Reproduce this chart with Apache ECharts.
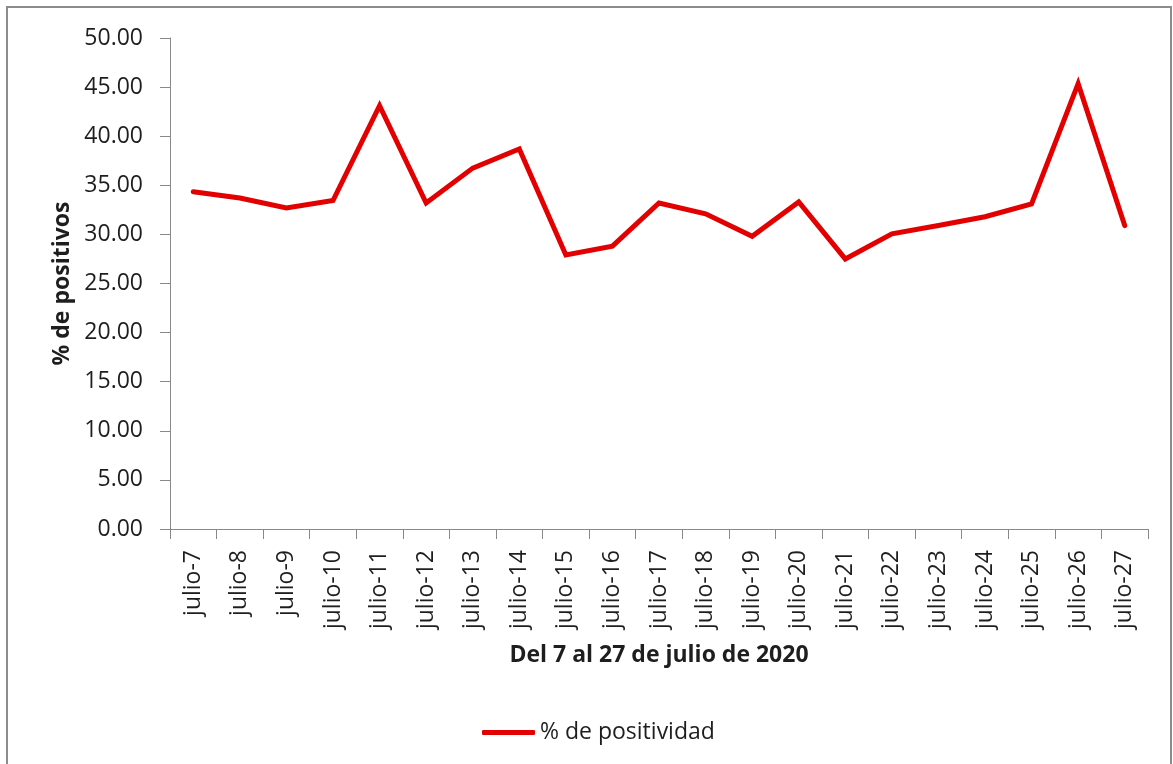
<!DOCTYPE html>
<html>
<head>
<meta charset="utf-8">
<script src="https://cdn.jsdelivr.net/npm/echarts@6/dist/echarts.min.js"></script>
<style>
  html, body { margin: 0; padding: 0; background: #fff; }
  #chart { width: 1173px; height: 764px; }
</style>
</head>
<body>
<div id="chart"></div>
<script>
// categorías (días de julio 2020)
const dias = [
  'julio-7', 'julio-8', 'julio-9', 'julio-10', 'julio-11', 'julio-12', 'julio-13',
  'julio-14', 'julio-15', 'julio-16', 'julio-17', 'julio-18', 'julio-19', 'julio-20',
  'julio-21', 'julio-22', 'julio-23', 'julio-24', 'julio-25', 'julio-26', 'julio-27',
]
// % de positividad
const positividad = [
  34.35, 33.7, 32.7, 33.45, 43.1, 33.2, 36.75,
  38.7, 27.9, 28.8, 33.2, 32.1, 29.8, 33.3,
  27.5, 30.05, 30.9, 31.8, 33.1, 45.35, 30.9,
]
const serieNombre = '% de positividad'
const ejeX = 'Del 7 al 27 de julio de 2020'
const ejeY = '% de positivos'

const fuente = "'Open Sans', 'Noto Sans', sans-serif"
const texto = '#1e1e1e'
const gris = '#888888'

const myChart = echarts.init(document.getElementById('chart'))

const option = {
  animation: false,
  backgroundColor: '#fff',
  textStyle: { fontFamily: fuente },
  // marco exterior gris
  graphic: [
    {
      type: 'rect',
      shape: { x: 7, y: 7, width: 1164, height: 800 },
      style: { fill: 'none', stroke: '#8c8c8c', lineWidth: 2 },
      silent: true,
    },
  ],
  legend: {
    data: [serieNombre],
    left: 477,
    top: 716,
    icon: 'roundRect',
    itemWidth: 53,
    itemHeight: 5,
    textStyle: { fontFamily: fuente, fontSize: 23, color: texto },
  },
  grid: {
    left: 170,
    right: 25,
    top: 38,
    bottom: 235,
    containLabel: false,
  },
  xAxis: {
    type: 'category',
    data: dias,
    boundaryGap: true,
    name: ejeX,
    nameLocation: 'middle',
    nameGap: 115,
    nameTextStyle: { fontFamily: fuente, fontSize: 23, fontWeight: 'bold', color: texto },
    axisLine: { lineStyle: { color: gris, width: 1 } },
    axisTick: { show: true, interval: 0, length: 10, lineStyle: { color: gris } },
    axisLabel: {
      interval: 0,
      rotate: 90,
      margin: 21,
      fontFamily: fuente,
      fontSize: 23,
      color: texto,
    },
    splitLine: { show: false },
  },
  yAxis: {
    type: 'value',
    min: 0,
    max: 50,
    interval: 5,
    name: ejeY,
    nameLocation: 'middle',
    nameGap: 96,
    nameTextStyle: { fontFamily: fuente, fontSize: 23, fontWeight: 'bold', color: texto },
    axisLine: { show: true, lineStyle: { color: gris, width: 1 } },
    axisTick: { show: true, length: 10, lineStyle: { color: gris } },
    axisLabel: {
      margin: 27,
      fontFamily: fuente,
      fontSize: 23,
      color: texto,
      formatter: (v) => v.toFixed(2),
    },
    splitLine: { show: false },
  },
  series: [
    {
      name: serieNombre,
      type: 'line',
      data: positividad,
      symbol: 'none',
      color: '#e20000',
      lineStyle: { width: 5, color: '#e20000', join: 'miter', cap: 'round' },
    },
  ],
}

myChart.setOption(option, true)
</script>
</body>
</html>
